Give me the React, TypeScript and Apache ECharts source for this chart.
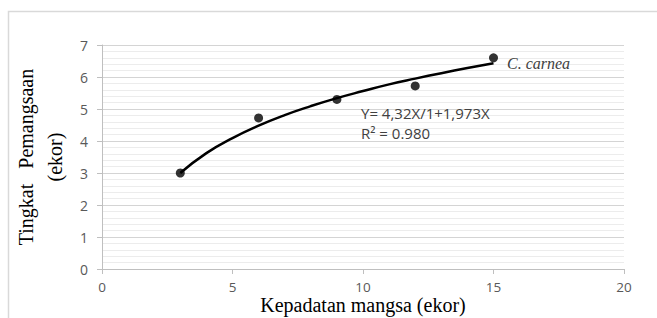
import React, { useEffect, useRef } from "react";
import * as echarts from "echarts";

const obsX = [3, 6, 9, 12, 15];
const obsY = [3.0, 4.72, 5.3, 5.72, 6.6];
const trendX = [3, 4, 5, 6, 7, 8, 9, 10, 11, 12, 13, 14, 15];
const trendY = [3.0, 3.62, 4.09, 4.48, 4.81, 5.09, 5.34, 5.56, 5.77, 5.95, 6.12, 6.28, 6.43];
const xTitle = "Kepadatan mangsa (ekor)";
const yTitle = "Tingkat   Pemangsaan\n(ekor)";
const seriesLabel = "C. carnea";
const equation = "Y= 4,32X/1+1,973X";
const rSquared = "R² = 0.980";

export default function App() {
  const ref = useRef<HTMLDivElement>(null);
  useEffect(() => {
    if (!ref.current) return;
    const chart = echarts.init(ref.current, undefined, { renderer: "svg" });
    const labelColor = "#595959";
    chart.setOption({
      animation: false,
      grid: { left: 102, right: 33, top: 45, bottom: 49, containLabel: false, outerBoundsMode: "none" },
      xAxis: {
        type: "value",
        min: 0,
        max: 20,
        interval: 5,
        name: xTitle,
        nameLocation: "middle",
        nameGap: 29,
        nameMoveOverlap: false,
        nameTextStyle: { fontFamily: "Liberation Serif", fontSize: 20, color: "#000", lineHeight: 14 },
        axisLine: { show: true, lineStyle: { color: "#bfbfbf", width: 1 } },
        axisTick: { show: true, length: 5, lineStyle: { color: "#bfbfbf" } },
        axisLabel: { color: labelColor, fontFamily: "Open Sans", fontSize: 13.5, margin: 13, lineHeight: 10 },
        splitLine: { show: false },
      },
      yAxis: {
        type: "value",
        min: 0,
        max: 7,
        interval: 1,
        name: yTitle,
        nameLocation: "middle",
        nameRotate: 90,
        nameGap: 33,
        nameMoveOverlap: false,
        nameTextStyle: {
          fontFamily: "Liberation Serif",
          fontSize: 20,
          color: "#000",
          lineHeight: 29,
          align: "center",
        },
        axisLine: { show: true, lineStyle: { color: "#bfbfbf", width: 1 } },
        axisTick: { show: true, length: 5, lineStyle: { color: "#bfbfbf" } },
        axisLabel: { color: labelColor, fontFamily: "Open Sans", fontSize: 14, margin: 14 },
        splitLine: { show: true, lineStyle: { color: "#d4d4d4", width: 1 } },
        minorTick: { show: false, splitNumber: 5 },
        minorSplitLine: { show: true, lineStyle: { color: "#ececec", width: 1 } },
      },
      series: [
        {
          type: "line",
          data: trendX.map((x, i) => [x, trendY[i]]),
          smooth: true,
          showSymbol: false,
          lineStyle: { color: "#000", width: 2.5 },
          z: 2,
        },
        {
          type: "scatter",
          data: obsX.map((x, i) => [x, obsY[i]]),
          symbolSize: 9,
          itemStyle: { color: "#000" },
          z: 3,
        },
      ],
      graphic: [
        {
          type: "polyline",
          shape: { points: [[8.5, 318], [8.5, 11.5], [657, 11.5]] },
          style: { stroke: "#d9d9d9", fill: "none", lineWidth: 1.5 },
          silent: true,
        },
        {
          type: "text",
          left: 507,
          top: 55,
          z: 100,
          style: {
            text: seriesLabel,
            font: "italic 16px 'Liberation Serif'",
            fill: "#404040",
          },
        },
        {
          type: "text",
          left: 361,
          top: 105,
          z: 100,
          style: {
            text: equation,
            font: "15px 'Open Sans'",
            fill: "#404040",
          },
        },
        {
          type: "text",
          left: 361,
          top: 125,
          z: 100,
          style: {
            text: rSquared,
            font: "15px 'Open Sans'",
            fill: "#404040",
          },
        },
      ],
    });
    return () => chart.dispose();
  }, []);
  return (
    <div
      ref={ref}
      style={{ position: "absolute", left: 0, top: 0, width: 657, height: 318, background: "#fff" }}
    />
  );
}
